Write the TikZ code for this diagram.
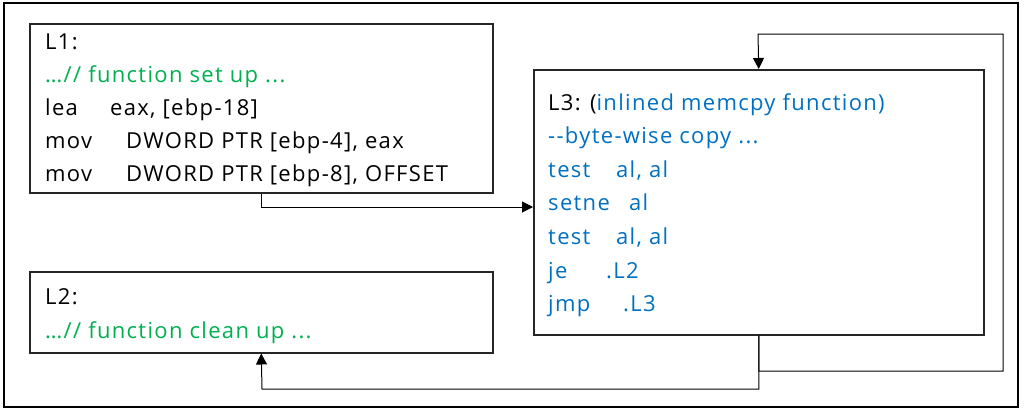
\documentclass[tikz,border=0pt]{standalone}
\usepackage{fontspec}
\setmainfont{Open Sans}[LetterSpace=6]
\usetikzlibrary{arrows.meta}
\definecolor{cgreen}{HTML}{00B050}
\definecolor{cblue}{HTML}{0070C0}
\definecolor{boxline}{HTML}{262626}
\tikzset{
  box/.style={draw=boxline, line width=1.5pt, anchor=north west, inner sep=0pt},
  txt/.style={anchor=base west, inner sep=0pt, font=\fontsize{22}{26}\selectfont},
  conn/.style={draw=black, line width=1pt},
  arr/.style={conn, -{Triangle[length=11pt,width=11pt]}},
}
\begin{document}
\begin{tikzpicture}[x=1pt,y=-1pt]
\useasboundingbox (0,0) rectangle (1027,410);
\draw[line width=2pt] (4,3) rectangle (1018,407);
% boxes
\node[box, minimum width=463pt, minimum height=169pt] (L1) at (29,23) {};
\node[box, minimum width=463pt, minimum height=81pt] (L2) at (29,271) {};
\node[box, minimum width=450pt, minimum height=265pt] (L3) at (533,69) {};
% L1 text
\node[txt] (t11) at (45,49) {L1:};
\node[txt, text=cgreen] (t12) at (45,82) {…// function set up ...};
\node[txt] (t13a) at (45,115) {lea};
\node[txt] (t13b) at (110,115) {eax, [ebp-18]};
\node[txt] (t14a) at (45,148) {mov};
\node[txt] (t14b) at (126,148) {DWORD PTR [ebp-4], eax};
\node[txt] (t15a) at (45,181) {mov};
\node[txt] (t15b) at (126,181) {DWORD PTR [ebp-8], OFFSET};
% L2 text
\node[txt] (t21) at (45,304) {L2:};
\node[txt, text=cgreen] (t22) at (45,338) {…// function clean up ...};
% L3 text
\node[txt] (t31) at (548,110) {L3: (\textcolor{cblue}{inlined memcpy function)}};
\node[txt, text=cblue] (t32) at (548,143) {{-}{-}byte-wise copy ...};
\node[txt, text=cblue] (t33a) at (548,177) {test};
\node[txt, text=cblue] (t33b) at (616,177) {al, al};
\node[txt, text=cblue] (t34a) at (548,210) {setne};
\node[txt, text=cblue] (t34b) at (629,210) {al};
\node[txt, text=cblue] (t35a) at (548,244) {test};
\node[txt, text=cblue] (t35b) at (616,244) {al, al};
\node[txt, text=cblue] (t36a) at (548,278) {je};
\node[txt, text=cblue] (t36b) at (606,278) {.L2};
\node[txt, text=cblue] (t37a) at (548,311) {jmp};
\node[txt, text=cblue] (t37b) at (623,311) {.L3};
% connectors
\coordinate (j1) at (262,207);
\coordinate (c1) at (1003,371);
\coordinate (c2) at (758,34);
\coordinate (c3) at (262,389);
\draw[arr] (L1.south) |- (L3.west |- j1);
\draw[arr] (L3.south) |- (c1) |- (c2) -- (L3.north);
\draw[arr] (L3.south) |- (c3) -- (L2.south);
\end{tikzpicture}
\end{document}
